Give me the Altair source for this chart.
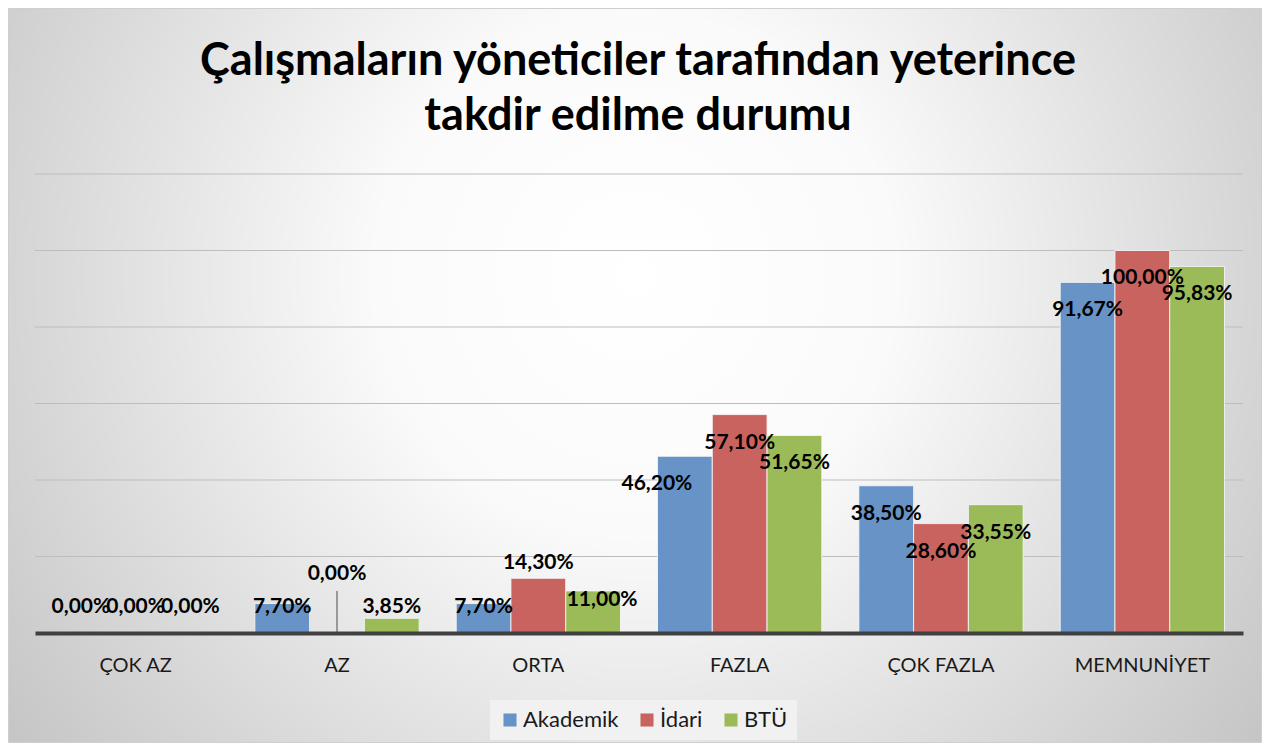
import altair as alt
import pandas as pd

categories = ["ÇOK AZ", "AZ", "ORTA", "FAZLA", "ÇOK FAZLA", "MEMNUNİYET"]
series = ["Akademik", "İdari", "BTÜ"]
akademik = [0.00, 7.70, 7.70, 46.20, 38.50, 91.67]
idari = [0.00, 0.00, 14.30, 57.10, 28.60, 100.00]
btu = [0.00, 3.85, 11.00, 51.65, 33.55, 95.83]
colors = ["#6793C6", "#C9635F", "#9BBB59"]
y_ticks = [20, 40, 60, 80, 100, 120]
title_lines = ["Çalışmaların yöneticiler tarafından yeterince", "takdir edilme durumu"]

rows = []
for s, vals in zip(series, [akademik, idari, btu]):
    for c, v in zip(categories, vals):
        rows.append({"kategori": c, "grup": s, "deger": v,
                     "etiket": f"{v:.2f}%".replace(".", ",")})
df = pd.DataFrame(rows)

# label placement (like Excel's data labels, some moved by hand)
df["ly"] = (df["deger"] - 7.3).clip(lower=6.8)
df["dx"] = 0
manual = {("ORTA", "İdari"): (18.3, 0), ("AZ", "İdari"): (15.4, 0),
          ("ORTA", "BTÜ"): (8.6, 9), ("FAZLA", "Akademik"): (None, -28)}
for (c, s), (ly, dx) in manual.items():
    m = (df["kategori"] == c) & (df["grup"] == s)
    if ly is not None:
        df.loc[m, "ly"] = ly
    df.loc[m, "dx"] = dx

leader = pd.DataFrame([{"kategori": "AZ", "grup": "İdari", "y0": 0, "y1": 11}])
grid = pd.DataFrame({"t": y_ticks})

W, H = 1208, 459
PL, PT, PR, PB = 27, 166, 19, 110
FONT = "Lato"

xs = alt.X("kategori:N", sort=categories, title=None,
           scale=alt.Scale(paddingInner=0.184, paddingOuter=0.092),
           axis=alt.Axis(labelAngle=0, ticks=False, labelFontSize=20, labelFont=FONT,
                         labelColor="#1a1a1a", labelPadding=22, domainColor="#404040",
                         domainWidth=4, grid=False, zindex=2))
ys = alt.Y("deger:Q", title=None, scale=alt.Scale(domain=[0, 120], nice=False), axis=None)
xo = alt.XOffset("grup:N", sort=series, scale=alt.Scale(paddingInner=0, paddingOuter=0))
col = alt.Color("grup:N", sort=series, scale=alt.Scale(domain=series, range=colors),
                legend=alt.Legend(title=None, orient="none", direction="horizontal",
                                  legendX=455, legendY=526, symbolType="square",
                                  symbolSize=170, symbolStrokeWidth=0, labelFontSize=22,
                                  labelFont=FONT, labelColor="#1a1a1a", columnPadding=17,
                                  labelOffset=2, fillColor="#f1f1f1", padding=9,
                                  zindex=2))

bg = alt.Chart(pd.DataFrame({"a": [0]})).mark_rect(
    fill=alt.Gradient(gradient="radial",
                      stops=[alt.GradientStop(offset=0, color="#ffffff"),
                             alt.GradientStop(offset=0.28, color="#fafafa"),
                             alt.GradientStop(offset=1, color="#b6b6b6")],
                      x1=0.5, y1=0.42, r1=0, x2=0.5, y2=0.42, r2=0.74),
    stroke="#cfcfcf", strokeWidth=1
).encode(x=alt.value(-PL + 0.5), x2=alt.value(W + PR - 0.5),
         y=alt.value(-PT + 0.5), y2=alt.value(H + PB - 0.5))

gridlines = alt.Chart(grid).mark_rule(color="#bdbdbd", strokeWidth=1).encode(
    y=alt.Y("t:Q", scale=alt.Scale(domain=[0, 120], nice=False), axis=None),
    x=alt.value(0), x2=alt.value(W))

bars = alt.Chart(df).mark_bar(stroke="#f4f4f4", strokeWidth=1, strokeOpacity=0.9).encode(
    x=xs, y=ys, xOffset=xo, color=col)

lead = alt.Chart(leader).mark_rule(color="#7f7f7f", strokeWidth=1.5).encode(
    x=alt.X("kategori:N", sort=categories), xOffset=alt.XOffset("grup:N", sort=series),
    y=alt.Y("y0:Q"), y2="y1:Q")

title = alt.Chart(pd.DataFrame({"a": [0]})).mark_text(
    text=title_lines, fontSize=45, font=FONT, fontWeight="bold", color="#000000",
    align="center", baseline="middle", lineHeight=55
).encode(x=alt.value(W / 2 - 1), y=alt.value(61 - 174))

layers = [bg, gridlines, bars, lead]
for dxv in sorted(df["dx"].unique()):
    sub = df[df["dx"] == dxv]
    layers.append(alt.Chart(sub).mark_text(fontSize=21, fontWeight="bold", font=FONT,
                                           color="#000000", baseline="middle",
                                           dx=int(dxv)).encode(
        x=alt.X("kategori:N", sort=categories),
        xOffset=alt.XOffset("grup:N", sort=series),
        y=alt.Y("ly:Q"), text="etiket:N"))
layers.append(title)

chart = alt.layer(*layers).properties(
    width=W, height=H,
    autosize=alt.AutoSizeParams(type="none"),
    padding={"left": PL, "top": PT, "right": PR, "bottom": PB},
    background="#ffffff",
).configure_view(stroke=None)

chart.save("out.html", embed_options={"renderer": "svg", "actions": False})
